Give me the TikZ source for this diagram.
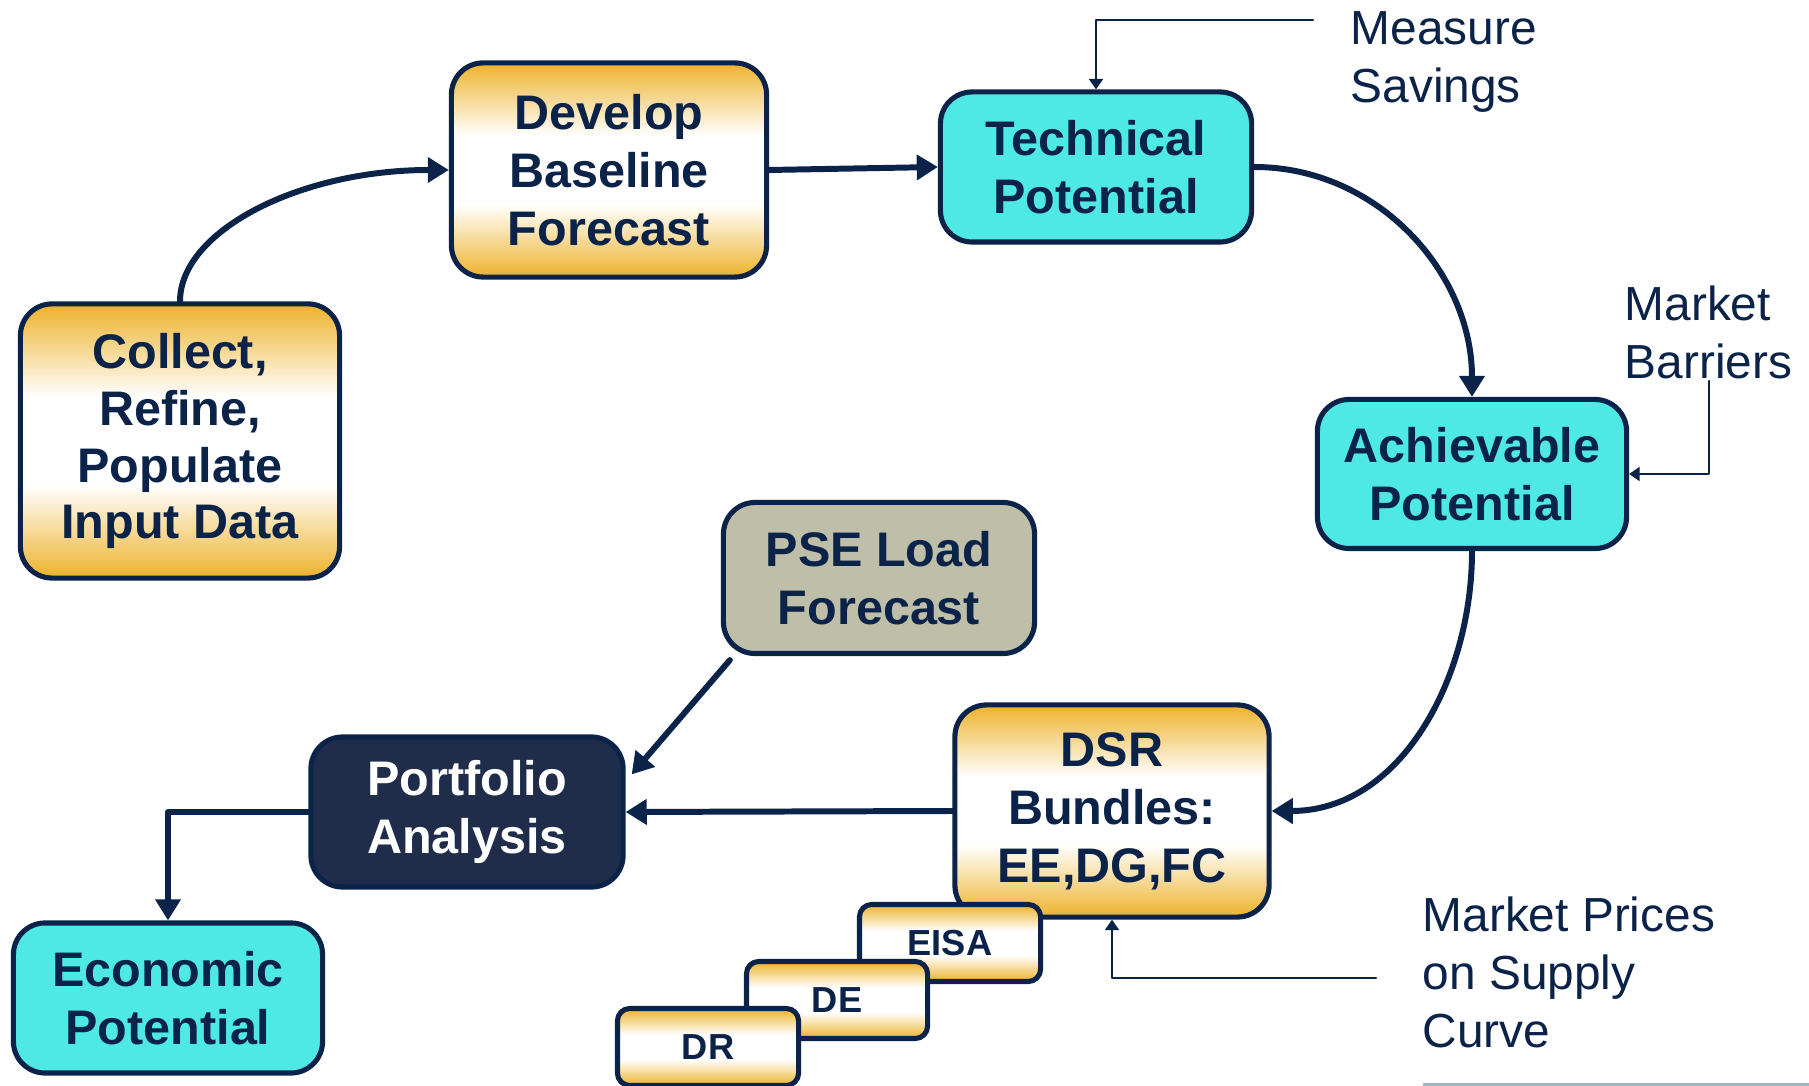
\documentclass[tikz,border=0pt]{standalone}
\usepackage{fontspec}
\setmainfont{Liberation Sans}
\usetikzlibrary{arrows.meta}
\definecolor{navy}{HTML}{0B2348}
\definecolor{gold}{HTML}{EDB22B}
\definecolor{aqua}{HTML}{4EE9E4}
\definecolor{sand}{HTML}{BFBFA9}
\definecolor{slate}{HTML}{1F2D4B}
\definecolor{rulecol}{HTML}{9DB8C4}
\pgfdeclareverticalshading{goldband}{100bp}{color(0bp)=(gold); color(25bp)=(gold); color(42bp)=(white); color(58bp)=(white); color(75bp)=(gold); color(100bp)=(gold)}

\begin{document}
\begin{tikzpicture}[line cap=round,line join=round,x=0.01cm,y=-0.01cm,
	stagebox/.style={draw=navy,line width=1.45pt,rounded corners=9pt,inner sep=0pt,align=center,text=navy,font=\fontsize{13.8}{16.5}\selectfont\bfseries},
	goldbox/.style={stagebox,shading=goldband},
	aquabox/.style={stagebox,fill=aqua},
	tierbox/.style={goldbox,rounded corners=3.5pt,minimum width=1.81cm,minimum height=0.77cm,font=\fontsize{10.3}{12}\selectfont\bfseries},
	note/.style={anchor=west,align=left,inner sep=0pt,text=navy,font=\fontsize{13.6}{16.5}\selectfont},
	mainarrow/.style={draw=navy,line width=1.7pt,-{Triangle[length=6pt,width=7pt]}},
	thinarrow/.style={draw=navy,line width=0.6pt,-{Triangle[length=3pt,width=4pt]}}]
	\useasboundingbox (0,0) rectangle (1809,1086);
	\fill[rulecol] (1423,1083) rectangle (1809,1086);
	\node[goldbox,minimum width=3.19cm,minimum height=2.74cm,font=\fontsize{13.8}{16.2}\selectfont\bfseries] (collect) at (180,441) {Collect,\\Refine,\\Populate\\Input Data};
	\node[goldbox,minimum width=3.15cm,minimum height=2.14cm] (develop) at (609,170) {Develop\\Baseline\\Forecast};
	\node[aquabox,minimum width=3.11cm,minimum height=1.50cm] (technical) at (1096,167) {Technical\\Potential};
	\node[aquabox,minimum width=3.09cm,minimum height=1.49cm] (achievable) at (1472,474) {Achievable\\Potential};
	\node[stagebox,fill=sand,minimum width=3.11cm,minimum height=1.51cm] (pse) at (879,578) {PSE Load\\Forecast};
	\node[stagebox,fill=slate,text=white,minimum width=3.12cm,minimum height=1.50cm] (portfolio) at (467,812) {Portfolio\\Analysis};
	\node[goldbox,minimum width=3.14cm,minimum height=2.12cm] (dsr) at (1112,811) {DSR\\Bundles:\\EE,DG,FC};
	\node[aquabox,minimum width=3.09cm,minimum height=1.50cm] (economic) at (168,998) {Economic\\Potential};
	\foreach \tag/\cx/\cy/\lbl in {eisa/950/943/EISA,de/837/1000/DE,dr/708/1047/DR}
		\node[tierbox] (\tag) at (\cx,\cy) {\lbl};
	\node[note] (savings) at (1350,62) {Measure\\Savings};
	\node[note] (barriers) at (1624,332) {Market\\Barriers};
	\node[note] (prices) at (1422,972) {Market Prices\\on Supply\\Curve};
	\draw[mainarrow] (collect.north) .. controls +(0,-70) and +(-150,0) .. (develop.west);
	\draw[mainarrow] (develop.east) -- (technical.west);
	\draw[mainarrow] (technical.east) to[out=0,in=90] (achievable.north);
	\draw[mainarrow] (achievable.south) to[out=-90,in=0] (dsr.east);
	\draw[mainarrow] ([shift={(9,4)}]pse.south west) -- ([shift={(6,40)}]portfolio.north east);
	\draw[mainarrow] (dsr.west) -- (portfolio.east);
	\draw[mainarrow] (portfolio.west) -| (economic.north);
	\coordinate (savingsend) at (1313,20);
	\coordinate (barrierend) at (1709,381);
	\coordinate (pricesend) at (1376,978);
	\draw[thinarrow] (savingsend) -| (technical.north);
	\draw[thinarrow] (barrierend) |- (achievable.east);
	\draw[thinarrow] (pricesend) -| (dsr.south);
\end{tikzpicture}
\end{document}
